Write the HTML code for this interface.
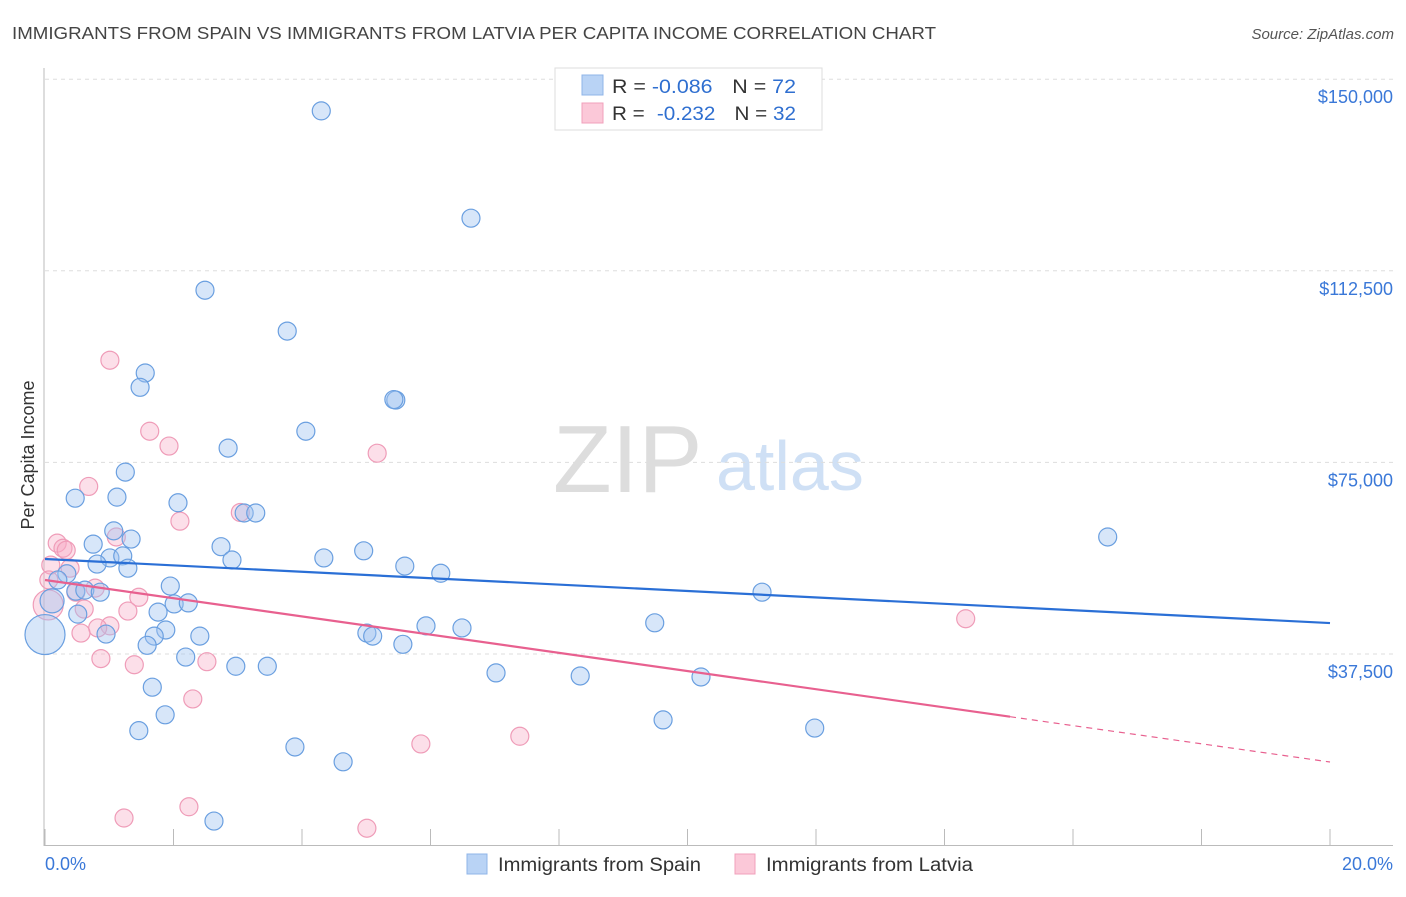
<!DOCTYPE html>
<html><head><meta charset="utf-8"><style>
body{margin:0;background:#fff;font-family:"Liberation Sans",sans-serif;}
svg text{font-family:"Liberation Sans",sans-serif;}
</style></head><body>
<svg width="1406" height="892" viewBox="0 0 1406 892">
<text x="12" y="39" font-size="17.5" fill="#444" textLength="924" lengthAdjust="spacingAndGlyphs">IMMIGRANTS FROM SPAIN VS IMMIGRANTS FROM LATVIA PER CAPITA INCOME CORRELATION CHART</text>
<text x="1394" y="39" font-size="15" fill="#555" font-style="italic" text-anchor="end">Source: ZipAtlas.com</text>
<g>
<text x="553" y="492" font-size="96" fill="#ddd" font-family="Liberation Serif, serif">ZIP</text>
<text x="716" y="490" font-size="70" fill="#cfe0f5">atlas</text>
</g>
<g id="grid"></g>
<g id="axes"></g>
<g id="pts"></g>
<g id="lines"></g>
<text transform="translate(34,455) rotate(-90)" font-size="18" fill="#333" text-anchor="middle">Per Capita Income</text>
<g>
<rect x="555" y="68" width="267" height="62" fill="#fff" stroke="#ddd"/>
<rect x="582" y="75" width="21" height="20" fill="#b9d3f5" stroke="#8fb5e8"/>
<rect x="582" y="103" width="21" height="20" fill="#fbc8d8" stroke="#f0a0bb"/>
<text x="612" y="93" font-size="19.5" fill="#333" textLength="184" lengthAdjust="spacingAndGlyphs">R = <tspan fill="#2f6fd0">-0.086</tspan><tspan dx="18">N = </tspan><tspan fill="#2f6fd0">72</tspan></text>
<text x="612" y="120" font-size="19.5" fill="#333" textLength="184" lengthAdjust="spacingAndGlyphs">R = <tspan fill="#2f6fd0" dx="6">-0.232</tspan><tspan dx="18">N = </tspan><tspan fill="#2f6fd0">32</tspan></text>
</g>
<g>
<rect x="467" y="854" width="20" height="20" fill="#b9d3f5" stroke="#8fb5e8"/>
<text x="498" y="871" font-size="19" fill="#333" textLength="203" lengthAdjust="spacingAndGlyphs">Immigrants from Spain</text>
<rect x="735" y="854" width="20" height="20" fill="#fbc8d8" stroke="#f0a0bb"/>
<text x="766" y="871" font-size="19" fill="#333" textLength="207" lengthAdjust="spacingAndGlyphs">Immigrants from Latvia</text>
</g>
</svg>
<script>
const yTicks=[37500,75000,112500,150000];
const yTickLabels=["$37,500","$75,000","$112,500","$150,000"];
const xTicks=[0,2,4,6,8,10,12,14,16,18,20];
const xEndLabels=["0.0%","20.0%"];
const spainX=[4.30,6.63,2.49,3.77,1.56,1.48,5.46,5.43,4.06,2.85,1.25,0.47,1.12,2.07,3.10,3.28,1.07,1.34,0.75,2.74,4.96,1.01,1.21,2.91,4.34,0.81,1.29,5.60,6.16,0.34,0.20,1.95,0.48,0.62,0.86,2.01,2.23,1.76,0.51,1.88,5.93,6.49,9.49,5.01,5.10,1.70,2.41,0.95,1.59,5.57,2.19,2.97,3.46,7.02,8.33,10.21,1.67,1.87,9.62,1.46,11.98,3.89,4.64,2.63,16.54,11.16,0.11,0.00];
const spainY=[143800,122800,108700,100700,92500,89700,87200,87300,81100,77800,73100,68000,68200,67100,65100,65100,61600,60000,59000,58500,57700,56300,56700,55900,56300,55100,54300,54700,53300,53200,52000,50800,49800,50000,49600,47300,47500,45700,45300,42200,43000,42600,43600,41600,41000,41000,41000,41400,39200,39400,36900,35100,35100,33800,33200,33000,31000,25600,24600,22500,23000,19300,16400,4800,60400,49600,47900,41300];
const spainBig={66:12,67:20};
const latviaX=[1.01,1.63,1.93,5.17,0.68,3.04,2.10,0.19,0.28,0.33,1.11,0.39,0.09,0.06,0.78,0.48,1.46,0.05,0.61,1.29,1.01,0.82,0.56,0.87,1.39,2.52,2.30,14.33,5.85,7.39,2.24,1.23,5.01];
const latviaY=[95000,81100,78200,76800,70300,65200,63500,59200,58200,57800,60400,54300,54900,52000,50400,49600,48600,47100,46300,45900,43000,42600,41600,36600,35400,36000,28700,44400,19900,21400,7600,5400,3400];
const latviaBig={17:15};
const spainTrend=[56100,43560];
const latviaTrend=[51980,16360];
const latviaSolidEnd=15.02;

const NS="http://www.w3.org/2000/svg";
const X0=45,X1=1330,Y0=845.6,YPER=191.6/37500;
const sx=v=>X0+(X1-X0)*v/20;
const sy=v=>Y0-v*YPER;
function mk(p,tag,a){const e=document.createElementNS(NS,tag);for(const k in a)e.setAttribute(k,a[k]);p.appendChild(e);return e;}
const grid=document.getElementById('grid'),axes=document.getElementById('axes'),pts=document.getElementById('pts'),lines=document.getElementById('lines');
yTicks.forEach((t,i)=>{
 const l=mk(grid,'line',{x1:45,x2:1393,y1:sy(t),y2:sy(t),stroke:'#ddd','stroke-dasharray':'4,4'});
 
 
 const tx=mk(axes,'text',{x:1393,y:sy(t)+24,'font-size':18,fill:'#3a78d8','text-anchor':'end'});
 tx.textContent=yTickLabels[i];
 
 
});
const al=mk(axes,'line',{x1:44,x2:44,y1:68,y2:846,stroke:'#bbb'});


const bl=mk(axes,'line',{x1:44,x2:1393,y1:845.5,y2:845.5,stroke:'#bbb'});


xTicks.forEach(t=>{
 const l=mk(axes,'line',{x1:sx(t),x2:sx(t),y1:829,y2:846,stroke:'#bbb'});
 
 
});
[[0,'start',45],[20,'end',1393]].forEach((d,i)=>{
 const tx=mk(axes,'text',{x:d[2],y:870,'font-size':18,fill:'#3a78d8','text-anchor':d[1]});
 tx.textContent=xEndLabels[i];
 
 
});
latviaX.forEach((x,i)=>{
 const c=mk(pts,'circle',{cx:sx(x),cy:sy(latviaY[i]),r:latviaBig[i]||9,fill:'rgba(246,170,196,0.38)',stroke:'#ef9cb8','stroke-width':1.2});
 
 
});
spainX.forEach((x,i)=>{
 const c=mk(pts,'circle',{cx:sx(x),cy:sy(spainY[i]),r:spainBig[i]||9,fill:'rgba(160,196,240,0.42)',stroke:'#6a9fe0','stroke-width':1.2});
 
 
});
const b=mk(lines,'line',{x1:sx(0),y1:sy(spainTrend[0]),x2:sx(20),y2:sy(spainTrend[1]),stroke:'#2a6fd6','stroke-width':2.2});


const ly=x=>latviaTrend[0]+(latviaTrend[1]-latviaTrend[0])*x/20;
const p1=mk(lines,'line',{x1:sx(0),y1:sy(latviaTrend[0]),x2:sx(latviaSolidEnd),y2:sy(ly(latviaSolidEnd)),stroke:'#e8608f','stroke-width':2.2});


const p2=mk(lines,'line',{x1:sx(latviaSolidEnd),y1:sy(ly(latviaSolidEnd)),x2:sx(20),y2:sy(latviaTrend[1]),stroke:'#e8608f','stroke-width':1.2,'stroke-dasharray':'6,5'});


</script>
</body></html>
